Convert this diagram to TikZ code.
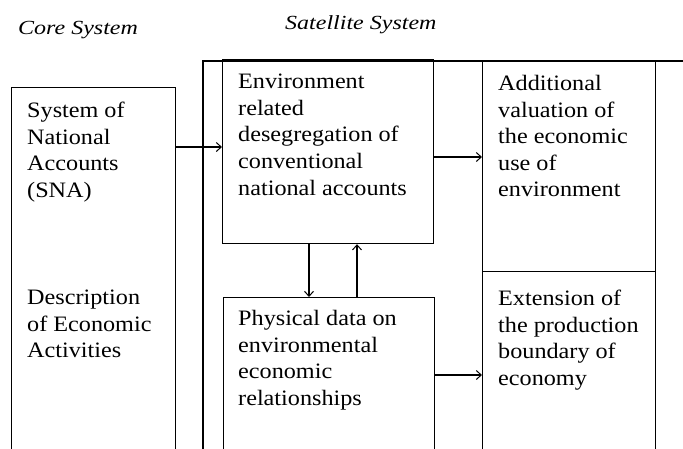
\documentclass[tikz,border=0pt]{standalone}
\usepackage{fontspec}
\setmainfont{Liberation Serif}[FakeStretch=1.1]
\newfontfamily\titlefont{Liberation Serif}[FakeStretch=1.2]
\usetikzlibrary{arrows.meta}
\tikzset{
  boxshape/.style={draw=black, line width=1.2pt, rectangle, inner sep=0pt, anchor=north west},
  boxtext/.style={anchor=north west, inner sep=0pt, align=left, text=black,
    font=\fontsize{22}{26.6}\selectfont},
  titletext/.style={anchor=base west, inner sep=0pt, font=\titlefont\itshape\fontsize{20}{24}\selectfont},
  framel/.style={line width=1.2pt},
  arr/.style={line width=1.2pt, -{Straight Barb[length=5pt,width=9pt,line width=1pt]}}
}
\begin{document}
\begin{tikzpicture}[x=1pt,y=-1pt]
\useasboundingbox (0,0) rectangle (683,448);
\begin{scope}
\clip (0,0) rectangle (683,448);
% outer satellite frame
\coordinate (ftl) at (203,61);
\coordinate (ftr) at (690,61);
\coordinate (fbl) at (203,460);
\draw[framel] (fbl) -- (ftl) -- (ftr);
% boxes
\node[boxshape, minimum width=164, minimum height=375] (core) at (11,87) {};
\node[boxshape, minimum width=211, minimum height=184] (env) at (222,59) {};
\node[boxshape, minimum width=211, minimum height=170] (phys) at (223,297) {};
\node[boxshape, minimum width=173, minimum height=210] (addl) at (482,61) {};
\node[boxshape, minimum width=173, minimum height=200] (ext) at (482,271) {};
\end{scope}
% titles
\node[titletext] (coret) at (18,34) {Core System};
\node[titletext] (satt) at (285,29) {Satellite System};
% texts
\node[boxtext] (t1) at (27,102) {System of\\National\\Accounts\\(SNA)};
\node[boxtext] (t2) at (27,290) {Description\\of Economic\\Activities};
\node[boxtext] (t3) at (238,74) {Environment\\related\\desegregation of\\conventional\\national accounts};
\node[boxtext] (t4) at (238,310) {Physical data on\\environmental\\economic\\relationships};
\node[boxtext] (t5) at (498,75) {Additional\\valuation of\\the economic\\use of\\environment};
\node[boxtext] (t6) at (498,290) {Extension of\\the production\\boundary of\\economy};
% connectors
\draw[arr] (core.east |- 0,147) -- (env.west |- 0,147);
\draw[arr] (env.east |- 0,157) -- (addl.west |- 0,157);
\draw[arr] (phys.east |- 0,375) -- (ext.west |- 0,375);
\draw[arr] (env.south -| 309,0) -- (phys.north -| 309,0);
\draw[arr] (phys.north -| 357,0) -- (env.south -| 357,0);
\end{tikzpicture}
\end{document}
